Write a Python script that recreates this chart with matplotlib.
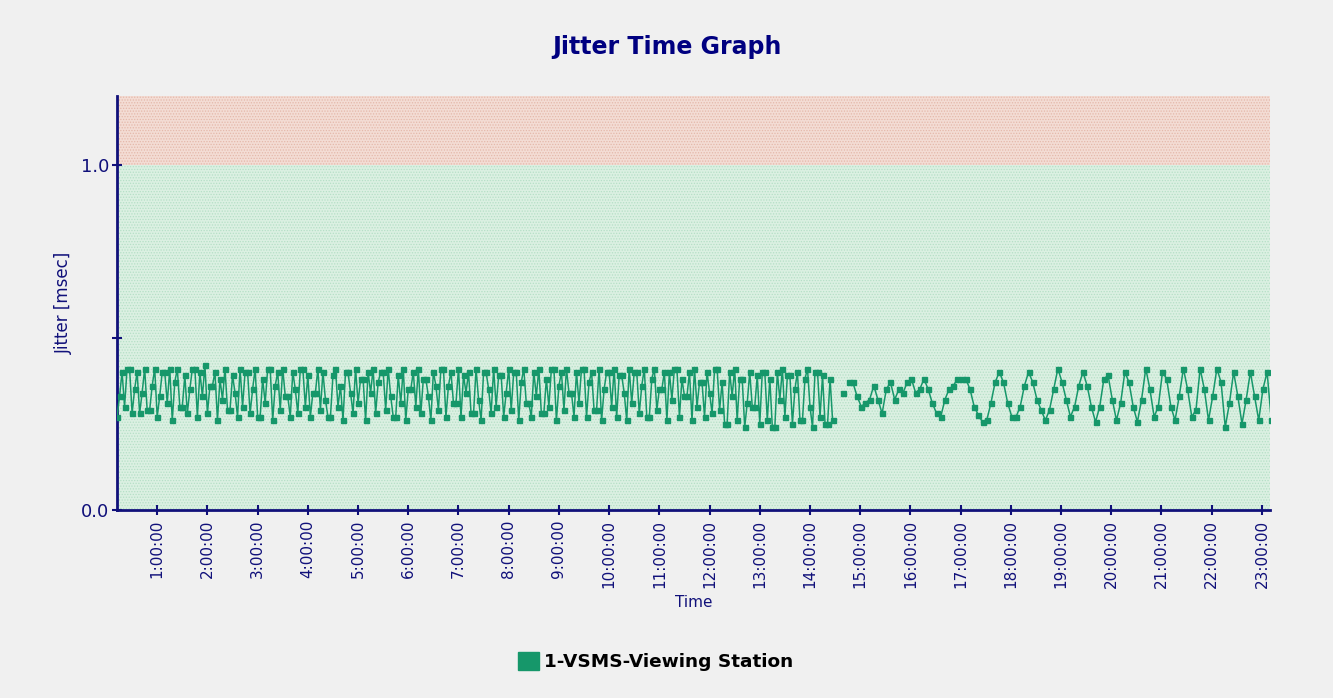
import numpy as np
import matplotlib
matplotlib.use("Agg")
import matplotlib.pyplot as plt
from matplotlib.patches import Patch

# first block: one sample every 3 minutes from 0:12:00
part1_start = 0.2
part1_step = 3 / 60
part1 = [
    0.27, 0.33, 0.40, 0.30, 0.41, 0.41, 0.28, 0.35, 0.40, 0.28, 0.34, 0.41, 0.29, 0.29, 0.36, 0.41, 0.27, 0.33, 0.40, 0.40,
    0.31, 0.41, 0.26, 0.37, 0.41, 0.30, 0.30, 0.39, 0.28, 0.35, 0.41, 0.41, 0.27, 0.40, 0.33, 0.42, 0.28, 0.36, 0.36, 0.40,
    0.26, 0.38, 0.32, 0.41, 0.29, 0.29, 0.39, 0.34, 0.27, 0.41, 0.30, 0.40, 0.40, 0.28, 0.35, 0.41, 0.27, 0.27, 0.38, 0.31,
    0.41, 0.41, 0.26, 0.36, 0.40, 0.29, 0.41, 0.33, 0.33, 0.27, 0.40, 0.35, 0.28, 0.41, 0.41, 0.30, 0.39, 0.27, 0.34, 0.34,
    0.41, 0.29, 0.40, 0.32, 0.27, 0.27, 0.39, 0.41, 0.30, 0.36, 0.26, 0.40, 0.40, 0.34, 0.28, 0.41, 0.31, 0.38, 0.38, 0.26,
    0.40, 0.34, 0.41, 0.28, 0.37, 0.40, 0.40, 0.29, 0.41, 0.33, 0.27, 0.27, 0.39, 0.31, 0.41, 0.26, 0.35, 0.35, 0.40, 0.30,
    0.41, 0.28, 0.38, 0.38, 0.33, 0.26, 0.40, 0.36, 0.29, 0.41, 0.41, 0.27, 0.36, 0.40, 0.31, 0.31, 0.41, 0.27, 0.39, 0.34,
    0.40, 0.28, 0.28, 0.41, 0.32, 0.26, 0.40, 0.40, 0.35, 0.28, 0.41, 0.30, 0.39, 0.39, 0.27, 0.34, 0.41, 0.29, 0.40, 0.40,
    0.26, 0.37, 0.41, 0.31, 0.31, 0.27, 0.40, 0.33, 0.41, 0.28, 0.28, 0.38, 0.30, 0.41, 0.41, 0.26, 0.36, 0.40, 0.29, 0.41,
    0.34, 0.34, 0.27, 0.40, 0.31, 0.41, 0.41, 0.27, 0.37, 0.40, 0.29, 0.29, 0.41, 0.26, 0.35, 0.40, 0.40, 0.30, 0.41, 0.27,
    0.39, 0.39, 0.34, 0.26, 0.41, 0.31, 0.40, 0.40, 0.28, 0.36, 0.41, 0.27, 0.27, 0.38, 0.41, 0.29, 0.35, 0.35, 0.40, 0.26,
    0.40, 0.32, 0.41, 0.41, 0.27, 0.38, 0.33, 0.33, 0.40, 0.26, 0.41, 0.30, 0.37, 0.37, 0.27, 0.40, 0.34, 0.28, 0.41, 0.41,
    0.29, 0.37, 0.25, 0.25, 0.40, 0.33, 0.41, 0.26, 0.38, 0.38, 0.24, 0.31, 0.40, 0.30, 0.30, 0.39, 0.25, 0.40, 0.40, 0.26,
    0.38, 0.24, 0.24, 0.40, 0.32, 0.41, 0.27, 0.39, 0.39, 0.25, 0.35, 0.40, 0.26, 0.26, 0.38, 0.41, 0.30, 0.24, 0.40, 0.40,
    0.27, 0.39, 0.25, 0.25, 0.38, 0.26,
]

# lone sample in the gap
lone_hour = 14.66
lone_value = 0.34

# second block: one sample every 5 minutes
part2_start = 14.77
part2_step = 5 / 60
part2 = [
    0.37, 0.37, 0.33, 0.30, 0.31, 0.32, 0.36, 0.32, 0.28, 0.35, 0.37, 0.32,
    0.35, 0.34, 0.37, 0.38, 0.34, 0.35, 0.38, 0.35, 0.31, 0.28, 0.27, 0.32,
    0.35, 0.36, 0.38, 0.38, 0.38, 0.35, 0.30, 0.275, 0.255, 0.26, 0.31, 0.37,
    0.40, 0.37, 0.31, 0.27, 0.27, 0.30, 0.36, 0.40, 0.37, 0.32, 0.29, 0.26,
    0.29, 0.35, 0.41, 0.37, 0.32, 0.27, 0.30, 0.36, 0.40, 0.36, 0.30, 0.255,
    0.30, 0.38, 0.39, 0.32, 0.26, 0.31, 0.40, 0.37, 0.30, 0.255, 0.32, 0.41,
    0.35, 0.27, 0.30, 0.40, 0.38, 0.30, 0.26, 0.33, 0.41, 0.35, 0.27, 0.29,
    0.41, 0.35, 0.26, 0.33, 0.41, 0.37, 0.24, 0.31, 0.40, 0.33, 0.25, 0.32,
    0.40, 0.33, 0.26, 0.35, 0.40, 0.26,
]

tick_hours = list(range(1, 24))
tick_labels = [f"{h}:00:00" for h in tick_hours]

threshold = 1.0
y_top = 1.2
series_name = "1-VSMS-Viewing Station"

h1 = part1_start + part1_step * np.arange(len(part1))
h2 = part2_start + part2_step * np.arange(len(part2))
hours = np.concatenate([h1, [np.nan, lone_hour, np.nan], h2])
jitter = np.concatenate([part1, [np.nan, lone_value, np.nan], part2])

navy = "#10107a"
line_green = "#16976a"
font = "DejaVu Sans"

fig = plt.figure(figsize=(13.33, 6.98), dpi=100, facecolor="#f0f0f0")
ax = fig.add_axes([0.0878, 0.2693, 0.8649, 0.5932])
ax.set_facecolor("#f0f0f0")

plt.rcParams["hatch.linewidth"] = 0.6
ax.axhspan(0, threshold, facecolor="#dbf0e2", edgecolor="#b5dfc6",
           hatch="......", linewidth=0, zorder=0)
ax.axhspan(threshold, y_top, facecolor="#f3dcd4", edgecolor="#e4b8aa",
           hatch="......", linewidth=0, zorder=0)

ax.plot(hours, jitter, color=line_green, lw=1.1, marker="s", ms=3.6,
        mec=line_green, mfc=line_green, zorder=3)

ax.set_xlim(0.2, 23.16)
ax.set_ylim(0, y_top)
ax.set_xticks(tick_hours)
ax.set_xticklabels(tick_labels, rotation=90, fontsize=11, color=navy,
                   family=font)
ax.set_yticks([0.0, 0.5, 1.0])
ax.set_yticklabels(["0.0", "", "1.0"], fontsize=13, color=navy, family=font)
ax.tick_params(colors=navy, width=1.5, length=7, direction="inout")
ax.tick_params(axis="y", pad=2)

for s in ["top", "right"]:
    ax.spines[s].set_visible(False)
for s in ["left", "bottom"]:
    ax.spines[s].set_color(navy)
    ax.spines[s].set_linewidth(2)

ax.set_xlabel("Time", fontsize=11, color=navy, family=font, labelpad=5)
ax.set_ylabel("Jitter [msec]", fontsize=12, color=navy, family=font,
              labelpad=6)

fig.text(0.5, 0.932, "Jitter Time Graph", ha="center", va="center",
         fontsize=17, fontweight="bold", color="#000080", family=font)

handle = Patch(facecolor=line_green, edgecolor=line_green)
fig.legend([handle], [series_name], loc="center",
           bbox_to_anchor=(0.492, 0.052), frameon=False,
           handlelength=1.1, handleheight=1.1, handletextpad=0.3,
           prop={"family": font, "weight": "bold", "size": 13.3})

fig.savefig("out.png", dpi=100, facecolor=fig.get_facecolor())
